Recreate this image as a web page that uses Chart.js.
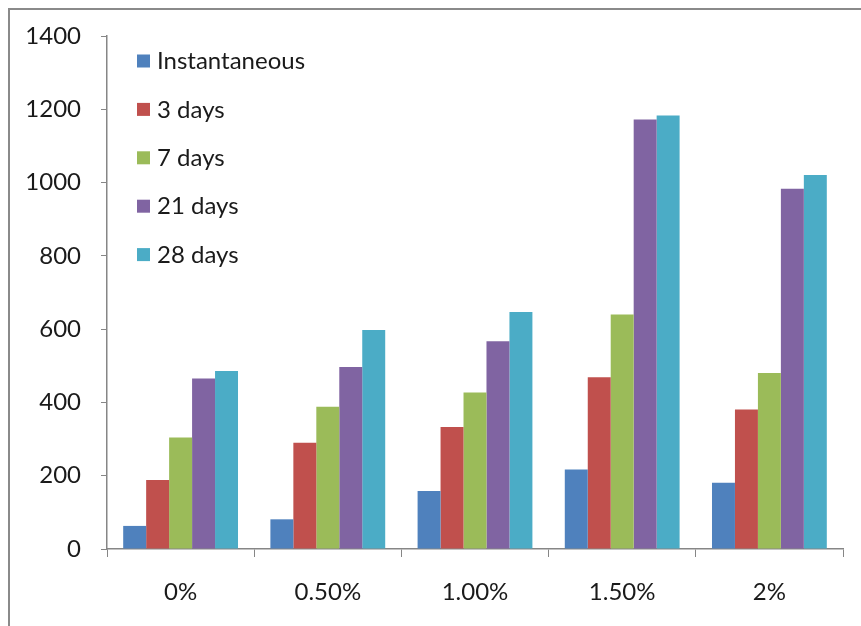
<!DOCTYPE html>
<html>
<head>
<meta charset="utf-8">
<script src="https://cdn.jsdelivr.net/npm/chart.js@4/dist/chart.umd.min.js"></script>
<style>
  html, body { margin: 0; padding: 0; background: #fff; }
  #wrap { width: 861px; height: 626px; position: relative; }
</style>
</head>
<body>
<div id="wrap"><canvas id="c" width="861" height="626"></canvas></div>
<script>
// Compressive strength by additive dosage and curing age
const categories = ['0%', '0.50%', '1.00%', '1.50%', '2%'];
const seriesNames = ['Instantaneous', '3 days', '7 days', '21 days', '28 days'];
const instantaneous = [63, 81, 158, 217, 181];
const days3 = [188, 290, 333, 469, 381];
const days7 = [304, 388, 427, 640, 480];
const days21 = [465, 497, 567, 1172, 983];
const days28 = [486, 598, 647, 1183, 1021];
const yTicks = [0, 200, 400, 600, 800, 1000, 1200, 1400];

const colors = ['#4F81BD', '#C0504D', '#9BBB59', '#8064A2', '#4BACC6'];
const values = [instantaneous, days3, days7, days21, days28];
const FONT = 'Lato, "Open Sans", sans-serif';
const TEXT = '#1a1a1a';

// Legend drawn inside the plot area, stacked vertically
const innerLegend = {
  id: 'innerLegend',
  afterDraw(chart) {
    const ctx = chart.ctx;
    ctx.save();
    ctx.font = '24px ' + FONT;
    ctx.textBaseline = 'middle';
    chart.data.datasets.forEach((ds, i) => {
      const y = 61.5 + i * 48.4;
      ctx.fillStyle = ds.backgroundColor;
      ctx.fillRect(137, y - 7, 13, 13);
      ctx.fillStyle = TEXT;
      ctx.fillText(ds.label, 157, y);
    });
    ctx.restore();
  }
};

// Outer frame around the chart
const frame = {
  id: 'frame',
  beforeDraw(chart) {
    const ctx = chart.ctx;
    ctx.save();
    ctx.fillStyle = '#fff';
    ctx.fillRect(0, 0, chart.width, chart.height);
    ctx.strokeStyle = '#8a8a8a';
    ctx.lineWidth = 2;
    ctx.beginPath();
    ctx.moveTo(9, chart.height);
    ctx.lineTo(9, 9);
    ctx.lineTo(chart.width, 9);
    ctx.stroke();
    ctx.restore();
  }
};

new Chart(document.getElementById('c'), {
  type: 'bar',
  data: {
    labels: categories,
    datasets: seriesNames.map((name, i) => ({
      label: name,
      data: values[i],
      backgroundColor: colors[i],
      borderWidth: 0,
      categoryPercentage: 0.78,
      barPercentage: 1.0
    }))
  },
  options: {
    responsive: false,
    animation: false,
    devicePixelRatio: 1,
    layout: { padding: { left: 0, top: 36, right: 18, bottom: 0 } },
    plugins: {
      legend: { display: false },
      tooltip: { enabled: false }
    },
    scales: {
      x: {
        grid: {
          display: true,
          drawOnChartArea: false,
          drawTicks: true,
          tickLength: 8,
          offset: true,
          color: '#868686'
        },
        border: { display: true, color: '#868686', width: 1.5 },
        ticks: {
          color: TEXT,
          font: { family: FONT, size: 24 },
          padding: 21,
          maxRotation: 0
        },
        afterFit(scale) { scale.height = 77; }
      },
      y: {
        min: 0,
        max: 1400,
        afterBuildTicks(scale) { scale.ticks = yTicks.map(v => ({ value: v })); },
        grid: {
          display: true,
          drawOnChartArea: false,
          drawTicks: true,
          tickLength: 6,
          color: '#868686'
        },
        border: { display: true, color: '#868686', width: 1.5 },
        ticks: {
          color: TEXT,
          font: { family: FONT, size: 24 },
          padding: 20,
          callback: v => String(v)
        },
        afterFit(scale) { scale.width = 107; }
      }
    }
  },
  plugins: [frame, innerLegend]
});
</script>
</body>
</html>
